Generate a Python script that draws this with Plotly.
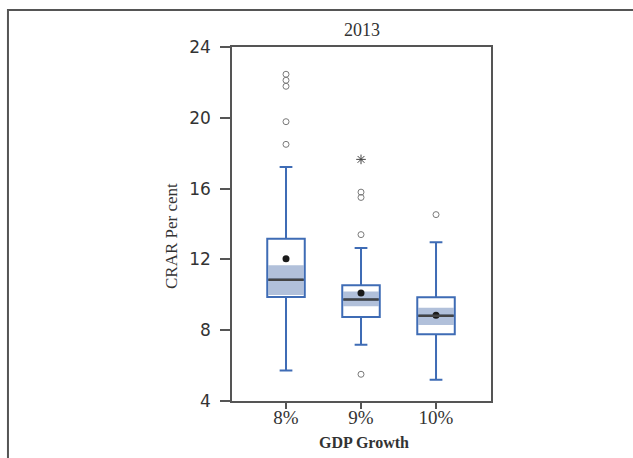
import plotly.graph_objects as go

# CRAR (per cent) distribution by GDP growth scenario, 2013
groups = ["8%", "9%", "10%"]
q1 = [9.88, 8.75, 7.77]
median = [10.85, 9.73, 8.82]
q3 = [13.17, 10.54, 9.86]
lower_whisker = [5.73, 7.18, 5.2]
upper_whisker = [17.22, 12.64, 12.97]
mean = [12.04, 10.1, 8.84]
median_ci_low = [9.99, 9.35, 8.29]
median_ci_high = [11.67, 10.18, 9.27]
outliers = [
    [22.46, 22.12, 21.78, 19.78, 18.5],
    [15.8, 15.5, 13.4, 5.51],
    [14.53],
]
extreme_outliers = [[], [17.65], []]
y_ticks = [4, 8, 12, 16, 20, 24]

BLUE = "#3f6cb5"
BAND = "#b1c0da"
AXIS = "#555555"
SERIF = "Liberation Serif, DejaVu Serif, serif"
SANS = "DejaVu Sans, Verdana, sans-serif"

positions = list(range(len(groups)))
box_w = 0.5
band_half = 0.235

fig = go.Figure()

for i, g in enumerate(groups):
    fig.add_trace(go.Box(
        x=[positions[i]],
        q1=[q1[i]], median=[median[i]], q3=[q3[i]],
        lowerfence=[lower_whisker[i]], upperfence=[upper_whisker[i]],
        width=box_w, whiskerwidth=0.34,
        fillcolor="rgba(0,0,0,0)",
        line=dict(color=BLUE, width=2),
        boxpoints=False, hoverinfo="skip", showlegend=False,
    ))
    # shaded median confidence interval
    fig.add_shape(type="rect", xref="x", yref="y", layer="below",
                  x0=positions[i] - band_half, x1=positions[i] + band_half,
                  y0=median_ci_low[i], y1=median_ci_high[i],
                  fillcolor=BAND, line=dict(width=0))
    # median line
    fig.add_shape(type="line", xref="x", yref="y", layer="above",
                  x0=positions[i] - band_half, x1=positions[i] + band_half,
                  y0=median[i], y1=median[i],
                  line=dict(color="#444444", width=2.5))

# outliers
ox, oy = [], []
for i, vals in enumerate(outliers):
    ox += [positions[i]] * len(vals)
    oy += vals
fig.add_trace(go.Scatter(
    x=ox, y=oy, mode="markers", showlegend=False, hoverinfo="skip",
    marker=dict(symbol="circle-open", size=6, color="#7a7a7a", line=dict(width=1)),
))

ex, ey = [], []
for i, vals in enumerate(extreme_outliers):
    ex += [positions[i]] * len(vals)
    ey += vals
fig.add_trace(go.Scatter(
    x=ex, y=ey, mode="markers", showlegend=False, hoverinfo="skip",
    marker=dict(symbol="asterisk-open", size=8, color="#444444", line=dict(width=1, color="#444444")),
))

# means
fig.add_trace(go.Scatter(
    x=positions, y=mean, mode="markers", showlegend=False, hoverinfo="skip",
    marker=dict(symbol="circle", size=7, color="#1a1a1a"),
))

# outer panel frame
fig.add_shape(type="rect", xref="paper", yref="paper",
              x0=-0.865, x1=2.0, y0=-0.5, y1=1.1045,
              fillcolor="rgba(0,0,0,0)", line=dict(color=AXIS, width=2), layer="above")

fig.update_layout(
    width=633, height=458,
    margin=dict(l=232, r=142, t=47, b=57),
    paper_bgcolor="white", plot_bgcolor="white",
    xaxis=dict(
        range=[-0.72, 2.733], tickmode="array", tickvals=positions, ticktext=groups,
        showgrid=False, zeroline=False, showline=True, linecolor=AXIS, linewidth=1.5,
        mirror=True, ticks="outside", ticklen=6, tickcolor=AXIS, tickwidth=1.5,
        ticklabelstandoff=-8,
        tickfont=dict(family=SERIF, size=19, color="#333333"),
    ),
    yaxis=dict(
        range=[4, 24], tickmode="array", tickvals=y_ticks,
        showgrid=False, zeroline=False, showline=True, linecolor=AXIS, linewidth=1.5,
        mirror=True, ticks="outside", ticklen=10, tickcolor=AXIS, tickwidth=1.5,
        ticklabelstandoff=6,
        tickfont=dict(family=SANS, size=17, color="#333333"),
    ),
)

fig.add_annotation(text="2013", xref="paper", yref="paper", x=0.5, y=1.048,
                   showarrow=False, yanchor="middle",
                   font=dict(family=SERIF, size=18, color="#333333"))
fig.add_annotation(text="CRAR Per cent", xref="paper", yref="paper", x=-0.2355, y=0.466,
                   showarrow=False, textangle=-90, xanchor="center", yanchor="middle",
                   font=dict(family=SERIF, size=17, color="#333333"))
fig.add_annotation(text="<b>GDP Growth</b>", xref="paper", yref="paper", x=0.51, y=-0.1186,
                   showarrow=False, xanchor="center", yanchor="middle",
                   font=dict(family=SERIF, size=16, color="#333333"))

fig.write_html("out.html")
